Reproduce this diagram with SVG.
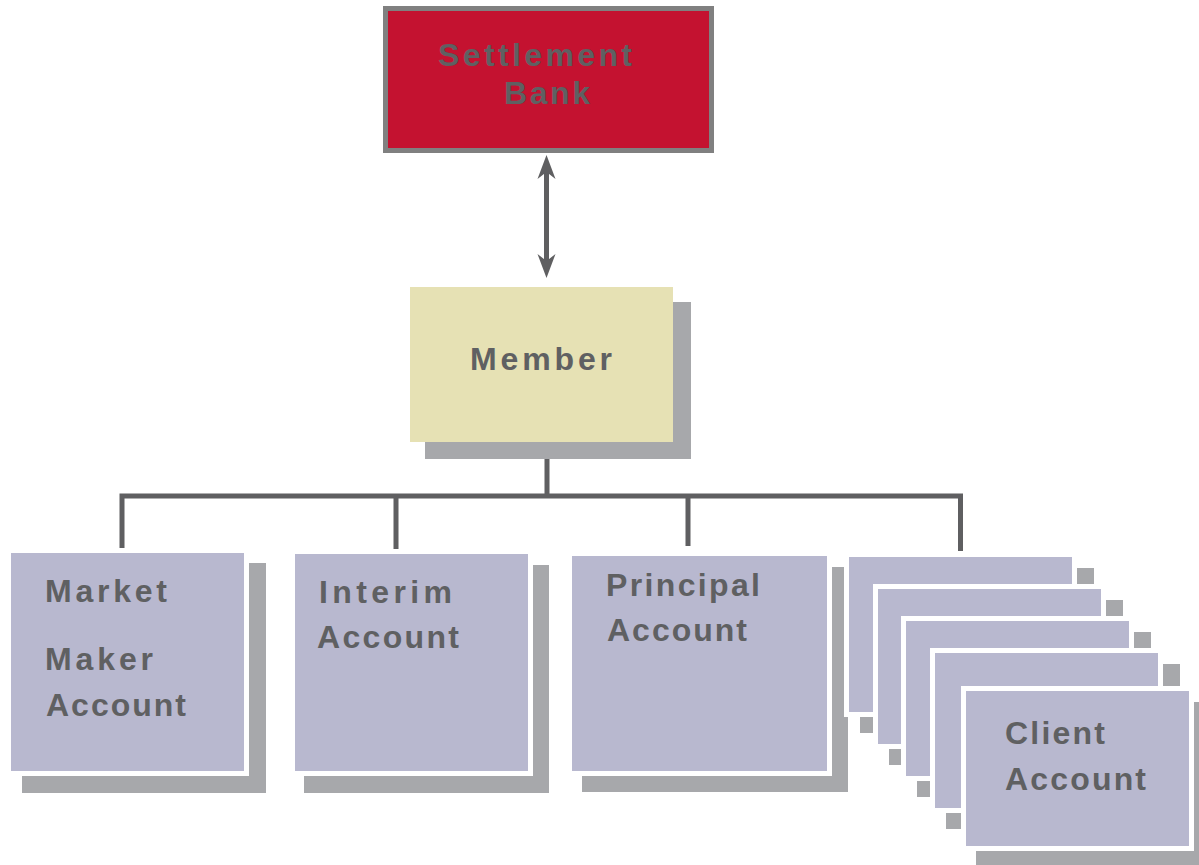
<svg xmlns="http://www.w3.org/2000/svg" width="1199" height="865" viewBox="0 0 1199 865">
  <defs>
    <style>
      .lbl { font-family: "Liberation Sans", Arial, sans-serif; font-weight: bold; font-size: 32px; fill: #5f6062; }
      .shadow { fill: #a7a8ab; }
      .mat { fill: #ffffff; }
      .acct { fill: #b8b8cf; }
      .link { stroke: #5f5f61; stroke-width: 5; fill: none; }
    </style>
    <marker id="head" markerUnits="userSpaceOnUse" orient="auto-start-reverse" refX="0" refY="0" markerWidth="30" markerHeight="30" overflow="visible">
      <path d="M13,0 L-11,-9 L-4,0 L-11,9 Z" fill="#5f5f61"/>
    </marker>
  </defs>

  <rect width="1199" height="865" fill="#ffffff"/>

  <!-- connectors -->
  <g id="connectors">
    <line class="link" x1="546.5" y1="168" x2="546.5" y2="265" marker-start="url(#head)" marker-end="url(#head)"/>
    <path class="link" d="M547,456 V496 M122,549 V496 H960.5 V551 M396,496 V552 M688,496 V546"/>
  </g>

  <!-- settlement bank -->
  <g id="settlement-bank">
    <rect x="385.5" y="8.5" width="326" height="142" fill="#c41230" stroke="#808080" stroke-width="5"/>
    <text class="lbl" x="438" y="66" textLength="194" lengthAdjust="spacing">Settlement</text>
    <text class="lbl" x="504" y="104" textLength="86" lengthAdjust="spacing">Bank</text>
  </g>

  <!-- member -->
  <g id="member">
    <rect class="shadow" x="425" y="302" width="266" height="157"/>
    <rect x="410" y="287" width="263" height="155" fill="#e6e1b4"/>
    <text class="lbl" x="470" y="370" textLength="142" lengthAdjust="spacing">Member</text>
  </g>

  <!-- market maker account -->
  <g id="market-maker-account">
    <rect class="shadow" x="22" y="563" width="244" height="230"/>
    <rect class="mat" x="6" y="548" width="243" height="228"/>
    <rect class="acct" x="11" y="553" width="233" height="218"/>
    <text class="lbl" x="45" y="602" textLength="122" lengthAdjust="spacing">Market</text>
    <text class="lbl" x="45" y="670" textLength="108" lengthAdjust="spacing">Maker</text>
    <text class="lbl" x="46" y="716" textLength="140" lengthAdjust="spacing">Account</text>
  </g>

  <!-- interim account -->
  <g id="interim-account">
    <rect class="shadow" x="304" y="565" width="245" height="228"/>
    <rect class="mat" x="290" y="549" width="243" height="227"/>
    <rect class="acct" x="295" y="554" width="233" height="217"/>
    <text class="lbl" x="319" y="603" textLength="133" lengthAdjust="spacing">Interim</text>
    <text class="lbl" x="317" y="648" textLength="142" lengthAdjust="spacing">Account</text>
  </g>

  <!-- principal account -->
  <g id="principal-account">
    <rect class="shadow" x="582" y="567" width="266" height="225"/>
    <rect class="mat" x="567" y="551" width="265" height="225"/>
    <rect class="acct" x="572" y="556" width="255" height="215"/>
    <text class="lbl" x="606" y="596" textLength="154" lengthAdjust="spacing">Principal</text>
    <text class="lbl" x="607" y="641" textLength="140" lengthAdjust="spacing">Account</text>
  </g>

  <!-- client accounts: stacked cards -->
  <g id="client-account">
    <rect class="shadow" x="860" y="568" width="234" height="165"/>
    <rect class="mat" x="844" y="552" width="233" height="165"/>
    <rect class="acct" x="849" y="557" width="223" height="155"/>

    <rect class="shadow" x="889" y="600" width="234" height="165"/>
    <rect class="mat" x="873" y="584" width="233" height="165"/>
    <rect class="acct" x="878" y="589" width="223" height="155"/>

    <rect class="shadow" x="917" y="632" width="234" height="165"/>
    <rect class="mat" x="901" y="616" width="233" height="165"/>
    <rect class="acct" x="906" y="621" width="223" height="155"/>

    <rect class="shadow" x="946" y="664" width="234" height="165"/>
    <rect class="mat" x="930" y="648" width="233" height="165"/>
    <rect class="acct" x="935" y="653" width="223" height="155"/>

    <rect class="shadow" x="976" y="702" width="234" height="165"/>
    <rect class="mat" x="961" y="686" width="233" height="165"/>
    <rect class="acct" x="966" y="691" width="223" height="155"/>

    <text class="lbl" x="1005" y="744" textLength="100" lengthAdjust="spacing">Client</text>
    <text class="lbl" x="1005" y="790" textLength="141" lengthAdjust="spacing">Account</text>
  </g>
</svg>
